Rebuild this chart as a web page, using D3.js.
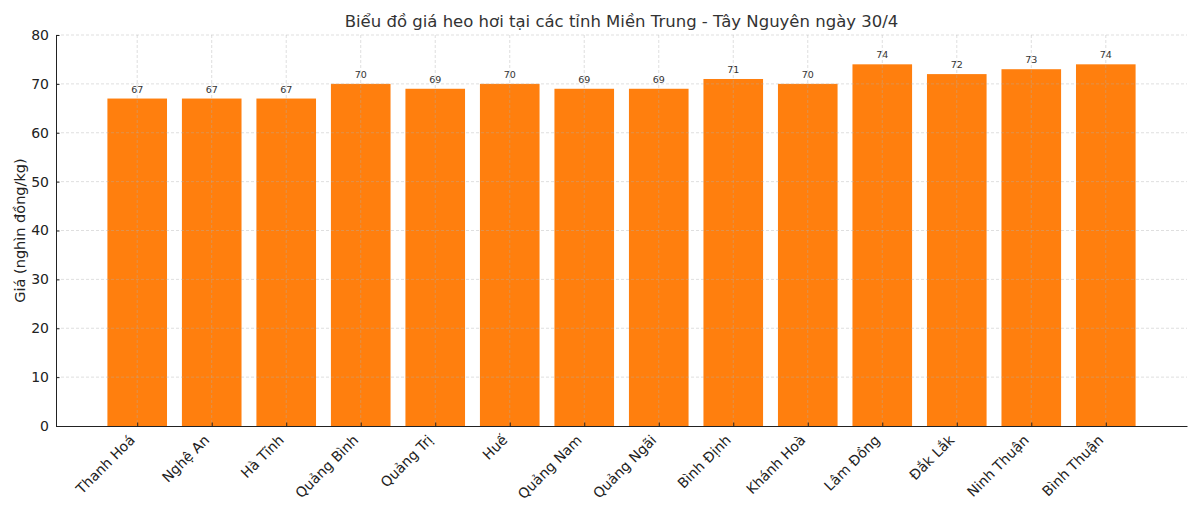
<!DOCTYPE html>
<html>
<head>
<meta charset="utf-8">
<script src="https://cdn.jsdelivr.net/npm/d3@7"></script>
<style>
  body { margin: 0; background: #fff; }
  svg { font-family: "DejaVu Sans", sans-serif; }
</style>
</head>
<body>
<svg id="chart" width="1200" height="514"></svg>
<script>
const provinces = ['Thanh Hoá', 'Nghệ An', 'Hà Tĩnh', 'Quảng Bình', 'Quảng Trị', 'Huế', 'Quảng Nam',
  'Quảng Ngãi', 'Bình Định', 'Khánh Hoà', 'Lâm Đồng', 'Đắk Lắk', 'Ninh Thuận', 'Bình Thuận'];
const prices = [67, 67, 67, 70, 69, 70, 69, 69, 71, 70, 74, 72, 73, 74];
const yTicks = [0, 10, 20, 30, 40, 50, 60, 70, 80];
const title = 'Biểu đồ giá heo hơi tại các tỉnh Miền Trung - Tây Nguyên ngày 30/4';
const yLabel = 'Giá (nghìn đồng/kg)';

const plotLeft = 56, plotRight = 1187, plotTop = 35, plotBottom = 426;
const barColor = '#ff7f0e';
const textColor = '#333';

const svg = d3.select('#chart');

// matplotlib-like band: bar width 0.8 of step, 5% margin on each side
const n = provinces.length;
const span = (n - 1) + 0.8;
const x = d3.scaleLinear()
  .domain([-0.4 - span * 0.05, n - 1 + 0.4 + span * 0.05])
  .range([plotLeft, plotRight]);
const y = d3.scaleLinear().domain([0, 80]).range([plotBottom, plotTop]);

// bars
svg.append('g')
  .selectAll('rect')
  .data(prices)
  .join('rect')
  .attr('x', (d, i) => x(i - 0.4))
  .attr('width', (d, i) => x(i + 0.4) - x(i - 0.4))
  .attr('y', d => y(d))
  .attr('height', d => y(0) - y(d))
  .attr('fill', barColor);

// grid on top, faint
const grid = svg.append('g')
  .attr('stroke', '#b0b0b0')
  .attr('stroke-opacity', 0.5)
  .attr('stroke-width', 0.8)
  .attr('stroke-dasharray', '3,2');
grid.selectAll('.gy')
  .data(yTicks.slice(1))
  .join('line')
  .attr('x1', plotLeft).attr('x2', plotRight)
  .attr('y1', d => y(d)).attr('y2', d => y(d));
grid.selectAll('.gx')
  .data(d3.range(n))
  .join('line')
  .attr('x1', d => x(d)).attr('x2', d => x(d))
  .attr('y1', plotTop).attr('y2', plotBottom);

// value labels
svg.append('g')
  .attr('font-size', 9.5)
  .attr('fill', textColor)
  .attr('text-anchor', 'middle')
  .selectAll('text')
  .data(prices)
  .join('text')
  .attr('x', (d, i) => x(i))
  .attr('y', d => y(d) - 6)
  .text(d => d);

// y axis
const yAxis = svg.append('g')
  .attr('transform', `translate(${plotLeft},0)`)
  .call(d3.axisLeft(y).tickValues(yTicks).tickSizeInner(-3.5).tickSizeOuter(0).tickPadding(7));
yAxis.select('.domain').attr('stroke', '#222').attr('stroke-width', 1);
yAxis.selectAll('.tick line').attr('stroke', '#222');
yAxis.selectAll('text').attr('font-size', 14).attr('fill', '#222').attr('font-family', '"DejaVu Sans", sans-serif');

// x axis
const xAxis = svg.append('g')
  .attr('transform', `translate(0,${plotBottom})`)
  .call(d3.axisBottom(x).tickValues(d3.range(n)).tickFormat(i => provinces[i])
    .tickSizeInner(-3.5).tickSizeOuter(0).tickPadding(6));
xAxis.select('.domain').attr('stroke', '#222').attr('stroke-width', 1);
xAxis.selectAll('.tick line').attr('stroke', '#222');
xAxis.selectAll('text')
  .attr('font-size', 14)
  .attr('fill', '#222')
  .attr('font-family', '"DejaVu Sans", sans-serif')
  .attr('text-anchor', 'end')
  .attr('y', 0)
  .attr('dy', 0)
  .attr('transform', 'translate(-2,15) rotate(-45)');

// title
svg.append('text')
  .attr('x', (plotLeft + plotRight) / 2)
  .attr('y', 27)
  .attr('text-anchor', 'middle')
  .attr('font-size', 16.5)
  .attr('fill', textColor)
  .text(title);

// y label
svg.append('text')
  .attr('transform', `translate(25,${(plotTop + plotBottom) / 2}) rotate(-90)`)
  .attr('text-anchor', 'middle')
  .attr('font-size', 14.5)
  .attr('fill', '#222')
  .text(yLabel);
</script>
</body>
</html>
